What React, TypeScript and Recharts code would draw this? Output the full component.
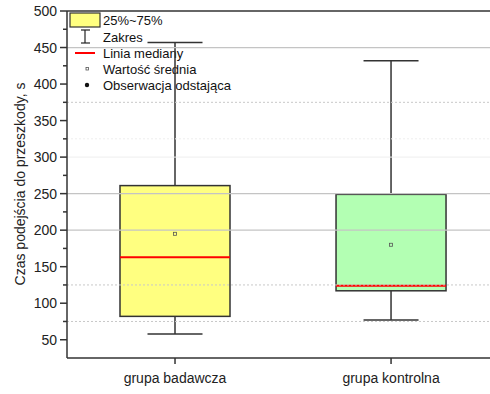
import React from 'react';
import { ComposedChart, Bar, XAxis, YAxis, ReferenceLine, Customized } from 'recharts';

const categories = ['grupa badawcza', 'grupa kontrolna'];
const positions = [1, 2];
const minValues = [58, 77];
const q1Values = [82, 117];
const medianValues = [163, 124];
const q3Values = [261, 249];
const maxValues = [457, 432];
const meanValues = [195, 180];
const boxColors = ['#FFFF80', '#B3FFB3'];
const yTicks = [50, 75, 100, 125, 150, 175, 200, 225, 250, 275, 300, 325, 350, 375, 400, 425, 450, 475, 500];
const solidGrid = [200, 250, 450];
const dottedGrid = [75, 125, 375];
const faintGrid = [300, 325];
const legendLabels = ['25%~75%', 'Zakres', 'Linia mediany', 'Wartość średnia', 'Obserwacja odstająca'];
const yAxisTitle = 'Czas podejścia do przeszkody, s';

const data = categories.map((name, i) => ({
  pos: positions[i],
  name,
  min: minValues[i],
  q1: q1Values[i],
  median: medianValues[i],
  q3: q3Values[i],
  max: maxValues[i],
  mean: meanValues[i],
  box: [q1Values[i], q3Values[i]],
}));

const BoxShape = (props: any) => {
  const { x, y, width, height, payload, index } = props;
  const ppu = height / (payload.q3 - payload.q1);
  const yOf = (v: number) => y + (payload.q3 - v) * ppu;
  const cx = x + width / 2;
  const capHalf = width / 4;
  const stroke = '#333';
  return (
    <g>
      <line x1={cx} x2={cx} y1={yOf(payload.max)} y2={y} stroke={stroke} strokeWidth={1.5} />
      <line x1={cx - capHalf} x2={cx + capHalf} y1={yOf(payload.max)} y2={yOf(payload.max)} stroke={stroke} strokeWidth={1.5} />
      <line x1={cx} x2={cx} y1={y + height} y2={yOf(payload.min)} stroke={stroke} strokeWidth={1.5} />
      <line x1={cx - capHalf} x2={cx + capHalf} y1={yOf(payload.min)} y2={yOf(payload.min)} stroke={stroke} strokeWidth={1.5} />
      <rect x={x} y={y} width={width} height={height} fill={boxColors[index % boxColors.length]} stroke={stroke} strokeWidth={1.5} />
      <line x1={x} x2={x + width} y1={yOf(payload.median)} y2={yOf(payload.median)} stroke="#FF0000" strokeWidth={2} />
      <rect x={cx - 1.5} y={yOf(payload.mean) - 1.5} width={3} height={3} fill="none" stroke="#555" strokeWidth={0.8} />
    </g>
  );
};

const YTick = (props: any) => {
  const { x, y, payload } = props;
  const v = payload.value as number;
  const major = v % 50 === 0;
  return (
    <g>
      <line x1={x - (major ? 7 : 4)} x2={x} y1={y} y2={y} stroke="#333" strokeWidth={1.5} />
      {major && (
        <text x={x - 10} y={y} dy="0.36em" textAnchor="end" fontSize={14} fill="#222">
          {v}
        </text>
      )}
    </g>
  );
};

const LegendLayer = () => {
  const rows = [20, 37, 53, 69, 85];
  const tx = 103;
  return (
    <g fontSize={13} fill="#111">
      <rect x={70} y={13} width={30} height={14} fill="#FFFF80" stroke="#333" strokeWidth={1.2} />
      <line x1={85} x2={85} y1={30} y2={43} stroke="#222" strokeWidth={1.2} />
      <line x1={81} x2={90} y1={30} y2={30} stroke="#222" strokeWidth={1.2} />
      <line x1={81} x2={90} y1={43} y2={43} stroke="#222" strokeWidth={1.2} />
      <line x1={75} x2={95} y1={53} y2={53} stroke="#FF0000" strokeWidth={2} />
      <rect x={86} y={67.5} width={2.5} height={2.5} fill="none" stroke="#555" strokeWidth={0.8} />
      <circle cx={87} cy={85} r={2.2} fill="#111" />
      {legendLabels.map((l, i) => (
        <text key={l} x={tx} y={rows[i]} dy="0.36em" fill="#111">
          {l}
        </text>
      ))}
      <text x={20} y={184} transform="rotate(-90 20 184)" textAnchor="middle" dy="0.36em" fontSize={14} fill="#222">
        {yAxisTitle}
      </text>
    </g>
  );
};

export default function App() {
  return (
    <div style={{ position: 'absolute', left: 0, top: 0, background: '#fff' }}>
      <ComposedChart
        width={490}
        height={394}
        data={data}
        margin={{ top: 11, right: 0, bottom: 0, left: 0 }}
        style={{ fontFamily: '"Liberation Sans", Arial, sans-serif' }}
      >
        {faintGrid.map((v) => (
          <ReferenceLine key={'f' + v} y={v} stroke="#eeeeee" strokeWidth={1} strokeDasharray={v === 325 ? '2 2' : undefined} />
        ))}
        {solidGrid.map((v) => (
          <ReferenceLine key={'s' + v} y={v} stroke="#c4c4c4" strokeWidth={1.2} />
        ))}
        {dottedGrid.map((v) => (
          <ReferenceLine key={'d' + v} y={v} stroke="#c8c8c8" strokeWidth={1} strokeDasharray="2 2" />
        ))}
        <ReferenceLine y={500} stroke="#333" strokeWidth={1.5} />
        <XAxis
          dataKey="pos"
          type="number"
          domain={[0.5, 2.458]}
          allowDataOverflow
          ticks={positions}
          interval={0}
          tickFormatter={(v: number) => categories[v - 1]}
          height={36}
          tickSize={6}
          tickMargin={9}
          axisLine={{ stroke: '#333', strokeWidth: 1.5 }}
          tickLine={{ stroke: '#333', strokeWidth: 1.5 }}
          tick={{ fill: '#222', fontSize: 14 }}
        />
        <YAxis
          type="number"
          domain={[25, 500]}
          allowDataOverflow
          ticks={yTicks}
          interval={0}
          width={67}
          tickSize={0}
          tickMargin={0}
          tickLine={false}
          axisLine={{ stroke: '#333', strokeWidth: 1.5 }}
          tick={<YTick />}
        />
        <Bar dataKey="box" barSize={110} shape={<BoxShape />} isAnimationActive={false} />
        <Customized component={LegendLayer} />
      </ComposedChart>
    </div>
  );
}
